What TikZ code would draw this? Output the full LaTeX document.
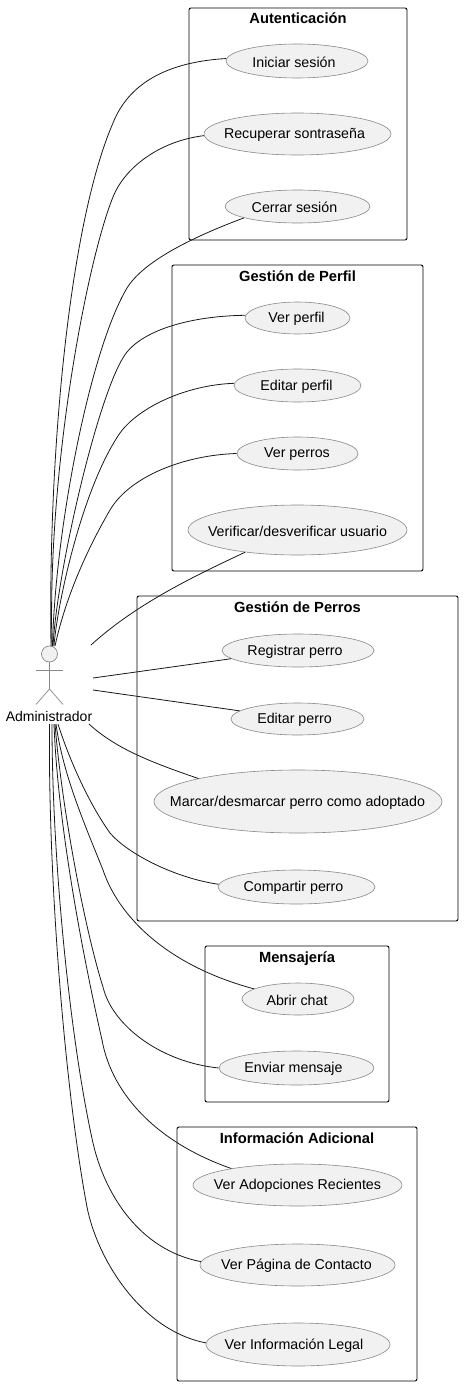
\documentclass[tikz,border=0pt]{standalone}
\usepackage{fontspec}
\setmainfont{Liberation Sans}
\usetikzlibrary{shapes.geometric}
\definecolor{ucfill}{HTML}{F1F1F1}
\definecolor{ucline}{HTML}{888888}
\definecolor{edgeline}{HTML}{181818}
\tikzset{
  uc/.style={ellipse,draw=ucline,fill=ucfill,line width=.6pt,inner sep=0pt},
  uctext/.style={inner sep=0pt,font=\fontsize{14.25}{16}\selectfont,text=black},
  pkg/.style={rectangle,draw=black,line width=.9pt,rounded corners=2pt,inner sep=0pt},
  pkgtitle/.style={inner sep=0pt,font=\fontsize{14.7}{16}\selectfont\bfseries,text=black},
  actorline/.style={draw=ucline,line width=.7pt},
  assoc/.style={draw=edgeline,line width=.8pt},
}
\newcommand{\pkgbox}[6]{% name x1 y1 x2 y2 title
  \node[pkg,minimum width={#4-#2 pt},minimum height={#5-#3 pt}] (#1) at ({(#2+#4)/2},{(#3+#5)/2}) {};
  \node[pkgtitle,anchor=base] (#1t) at ({(#2+#4)/2},#3+16) {#6};
}
\newcommand{\usecase}[7][0]{% [text shift] name x1 y1 x2 y2 text
  \node[uc,minimum width={#5-#3 pt},minimum height={#6-#4 pt}] (#2) at ({(#3+#5)/2},{(#4+#6)/2}) {};
  \node[uctext] (#2t) at ({(#3+#5)/2-3+#1},{(#4+#6)/2+1}) {#7};
}
\begin{document}
\begin{tikzpicture}[x=1pt,y=-1pt]
\useasboundingbox (0,0) rectangle (463,1386);
\pkgbox{p1}{189}{8}{407}{240}{Autenticación}
\pkgbox{p2}{172}{265}{423}{571}{Gestión de Perfil}
\pkgbox{p3}{137}{596}{458}{921}{Gestión de Perros}
\pkgbox{p4}{205}{946}{389}{1102}{Mensajería}
\pkgbox{p5}{177}{1127}{417}{1381}{Información Adicional}
\usecase{e1}{226}{44}{368}{78}{Iniciar sesión}
\usecase{e2}{204}{113}{391}{155}{Recuperar sontraseña}
\usecase{e3}{225}{190}{370}{223}{Cerrar sesión}
\usecase[2]{e4}{245}{302}{350}{334}{Ver perfil}
\usecase[2]{e5}{234}{369}{361}{402}{Editar perfil}
\usecase[2.5]{e6}{237}{437}{358}{470}{Ver perros}
\usecase[3]{e7}{188}{505}{407}{555}{Verificar/desverificar usuario}
\usecase{e8}{222}{634}{374}{667}{Registrar perro}
\usecase{e9}{231}{703}{364}{735}{Editar perro}
\usecase[2.5]{e10}{154}{770}{442}{833}{Marcar/desmarcar perro como adoptado}
\usecase{e11}{218}{870}{375}{904}{Compartir perro}
\usecase[2]{e12}{242}{983}{354}{1015}{Abrir chat}
\usecase{e13}{219}{1051}{374}{1085}{Enviar mensaje}
\usecase[3]{e14}{193}{1164}{402}{1206}{Ver Adopciones Recientes}
\usecase[2]{e15}{200}{1244}{395}{1286}{Ver Página de Contacto}
\usecase[-1]{e16}{206}{1323}{390}{1366}{Ver Información Legal}
% actor
\node[circle,draw=ucline,fill=ucfill,line width=.7pt,minimum size=16pt,inner sep=0pt] (head) at (49.5,654) {};
\coordinate (hip) at (49.5,689);
\coordinate (armL) at (36,670);
\coordinate (armR) at (63,670);
\coordinate (legL) at (36,704.5);
\coordinate (legR) at (63,704.5);
\draw[actorline] (head.south) -- (hip);
\draw[actorline] (armL) -- (armR);
\draw[actorline] (legL) -- (hip) -- (legR);
\node[inner sep=0pt,font=\fontsize{14}{16}\selectfont,text=black,anchor=base] (actor) at (49,721) {Administrador};
% connector start points
\coordinate (a1) at (51,646);
\coordinate (a2) at (52,646);
\coordinate (a3) at (52.5,646);
\coordinate (a4) at (53,646);
\coordinate (a5) at (54,646);
\coordinate (a6) at (55,646);
\coordinate (a7) at (91,645);
\coordinate (a8) at (93,678);
\coordinate (a9) at (93,690);
\coordinate (a10) at (89,724);
\coordinate (a11) at (58,724);
\coordinate (a12) at (56,724);
\coordinate (a13) at (55,724);
\coordinate (a14) at (54,724);
\coordinate (a15) at (52,724);
\coordinate (a16) at (49.5,724);
\draw[assoc] (a1) .. controls (48,450) and (70,222) .. (113,123) .. controls (128,85) and (165,62) .. (e1.178);
\draw[assoc] (a2) .. controls (47,470) and (87,261) .. (113,197) .. controls (125,167) and (160,141) .. (e2.181);
\draw[assoc] (a3) .. controls (55,530) and (90,350) .. (127,288) .. controls (143,262) and (190,238) .. (e3.192);
\draw[assoc] (a4) .. controls (57,570) and (100,385) .. (127,352) .. controls (145,330) and (190,316) .. (e4.177);
\draw[assoc] (a5) .. controls (57,605) and (82,488) .. (120,433) .. controls (138,408) and (185,385) .. (e5.178);
\draw[assoc] (a6) .. controls (65,600) and (85,553) .. (110,510) .. controls (130,476) and (185,455) .. (e6.180);
\draw[assoc] (a7) .. controls (135,605) and (190,578) .. (e7.203.5);
\draw[assoc] (a8) -- (e8.187.7);
\draw[assoc] (a9) -- (e9.172.6);
\draw[assoc] (a10) .. controls (115,748) and (150,762) .. (e10.167.7);
\draw[assoc] (a11) .. controls (70,762) and (90,805) .. (110,833) .. controls (128,854) and (175,878) .. (e11.178.5);
\draw[assoc] (a12) .. controls (63,775) and (85,825) .. (103,870) .. controls (118,915) and (165,965) .. (e12.167);
\draw[assoc] (a13) .. controls (62,810) and (85,930) .. (103,987) .. controls (112,1025) and (160,1062) .. (e13.180);
\draw[assoc] (a14) .. controls (58,830) and (85,965) .. (102,1040) .. controls (112,1095) and (158,1143) .. (e14.166);
\draw[assoc] (a15) .. controls (52,860) and (70,1040) .. (93,1143) .. controls (105,1195) and (140,1250) .. (e15.178);
\draw[assoc] (a16) .. controls (48,880) and (65,1090) .. (87,1207) .. controls (97,1258) and (140,1330) .. (e16.179);
\end{tikzpicture}
\end{document}
